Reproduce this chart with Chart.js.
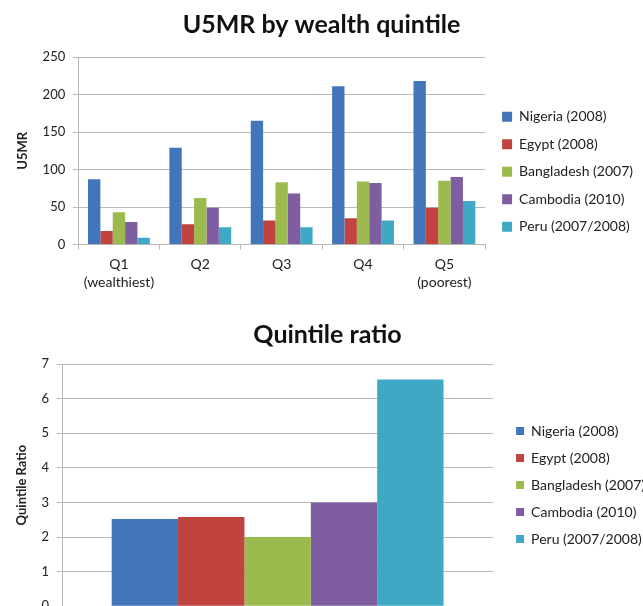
<!DOCTYPE html>
<html><head><meta charset="utf-8">
<script src="https://cdn.jsdelivr.net/npm/chart.js@4/dist/chart.umd.min.js"></script>
<style>
html,body{margin:0;padding:0;background:#fff;overflow:hidden;width:643px;height:606px;}
#top{position:absolute;left:0;top:0;}
#bottom{position:absolute;left:0;top:300px;}
</style></head><body>
<canvas id="top" width="643" height="300"></canvas>
<canvas id="bottom" width="655" height="322"></canvas>
<script>
// data
const countries = ['Nigeria (2008)', 'Egypt (2008)', 'Bangladesh (2007)', 'Cambodia (2010)', 'Peru (2007/2008)'];
const colors = ['#4375BA', '#C0433F', '#9BBB4F', '#7E5DA0', '#3FA9C5'];
const quintiles = [['Q1', '(wealthiest)'], 'Q2', 'Q3', 'Q4', ['Q5', '(poorest)']];
const nigeria = [87, 129, 165, 211, 218];
const egypt = [18, 27, 32, 35, 49];
const bangladesh = [43, 62, 83, 84, 85];
const cambodia = [30, 49, 68, 82, 90];
const peru = [9, 23, 23, 32, 58];
const quintileRatio = [2.52, 2.58, 2.0, 3.0, 6.55];

const FONT = 'Lato, "Liberation Sans", sans-serif';
const GRID = '#b9b9b9';
Chart.defaults.font.family = FONT;
Chart.defaults.color = '#222';

// empty axis on the right, only used to push the legend away from the plot
function spacer(w) {
    return {
        type: 'linear', position: 'right', display: true,
        grid: {display: false}, ticks: {display: false}, border: {display: false},
        afterFit(s) { s.width = w; }
    };
}

const u5mr = [nigeria, egypt, bangladesh, cambodia, peru];

new Chart(document.getElementById('top'), {
    type: 'bar',
    data: {
        labels: quintiles,
        datasets: countries.map((c, i) => ({label: c, data: u5mr[i], backgroundColor: colors[i]}))
    },
    options: {
        responsive: false, animation: false,
        layout: {padding: {left: 0, bottom: 2, right: 0}},
        datasets: {bar: {categoryPercentage: 0.76, barPercentage: 1}},
        plugins: {
            title: {display: true, text: 'U5MR by wealth quintile', font: {size: 25, weight: 'bold'}, color: '#111', padding: {top: 10, bottom: 17}},
            legend: {
                position: 'right', maxWidth: 200,
                // blank legend title just nudges the items down
                title: {display: true, text: '', font: {size: 12}, padding: {top: 0, bottom: 31}},
                labels: {boxWidth: 10, boxHeight: 10, padding: 13.5, font: {size: 14}}
            },
            tooltip: {enabled: false}
        },
        scales: {
            x: {
                grid: {offset: true, drawOnChartArea: false, tickLength: 5, color: GRID},
                border: {color: GRID},
                ticks: {font: {size: 14, lineHeight: 1.3}, padding: 6}
            },
            y: {
                min: 0, max: 250,
                ticks: {stepSize: 50, font: {size: 13}, padding: 8},
                grid: {color: GRID, tickLength: 5},
                border: {color: GRID},
                title: {display: true, text: 'U5MR', font: {size: 13, weight: 'bold'}, padding: {top: 15, bottom: 4}}
            },
            spacer: spacer(3.5)
        }
    }
});

new Chart(document.getElementById('bottom'), {
    type: 'bar',
    data: {
        labels: [''],
        datasets: countries.map((c, i) => ({label: c, data: [quintileRatio[i]], backgroundColor: colors[i]}))
    },
    options: {
        responsive: false, animation: false,
        layout: {padding: {left: 0, bottom: 0, right: 0}},
        datasets: {bar: {categoryPercentage: 0.77, barPercentage: 1}},
        plugins: {
            title: {display: true, text: 'Quintile ratio', font: {size: 25, weight: 'bold'}, color: '#111', padding: {top: 20, bottom: 14}},
            legend: {position: 'right', fullSize: false, maxWidth: 200, labels: {boxWidth: 8, boxHeight: 8, padding: 13, font: {size: 14}}},
            tooltip: {enabled: false}
        },
        scales: {
            x: {display: false},
            y: {
                min: 0, max: 7,
                ticks: {stepSize: 1, font: {size: 13}, padding: 8},
                grid: {color: GRID, tickLength: 5},
                border: {color: GRID},
                title: {display: true, text: 'Quintile Ratio', font: {size: 13, weight: 'bold'}, padding: {top: 14, bottom: 4}}
            },
            spacer: spacer(10)
        }
    }
});
</script>
</body></html>
